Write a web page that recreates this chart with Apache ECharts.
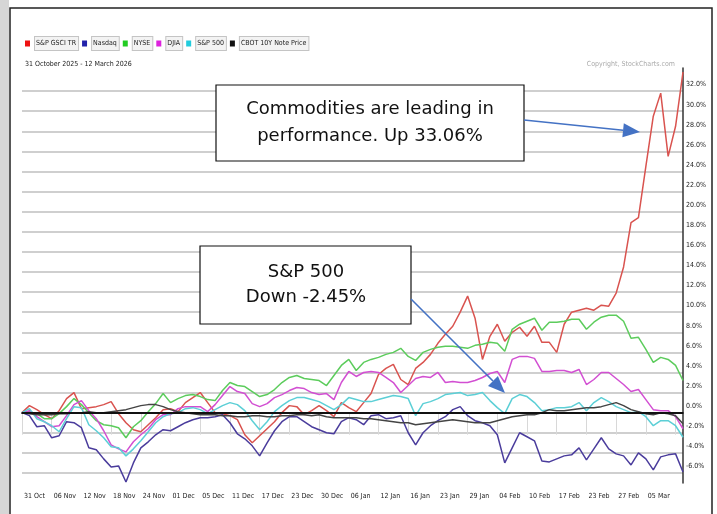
<!DOCTYPE html>
<html>
<head>
<meta charset="utf-8">
<script src="https://cdn.jsdelivr.net/npm/echarts@6/dist/echarts.min.js"></script>
<style>
html, body { margin: 0; padding: 0; background: #fff; }
#perf-chart { width: 717px; height: 514px; }
</style>
</head>
<body>
<div id="perf-chart"></div>
<script>
// trading days, 31 Oct 2025 - 12 Mar 2026
var dates = [
  '31 Oct','03 Nov','04 Nov','05 Nov','06 Nov','07 Nov','10 Nov','11 Nov','12 Nov','13 Nov',
  '14 Nov','17 Nov','18 Nov','19 Nov','20 Nov','21 Nov','24 Nov','25 Nov','26 Nov','28 Nov',
  '01 Dec','02 Dec','03 Dec','04 Dec','05 Dec','08 Dec','09 Dec','10 Dec','11 Dec','12 Dec',
  '15 Dec','16 Dec','17 Dec','18 Dec','19 Dec','22 Dec','23 Dec','24 Dec','26 Dec','29 Dec',
  '30 Dec','31 Dec','02 Jan','05 Jan','06 Jan','07 Jan','08 Jan','09 Jan','12 Jan','13 Jan',
  '14 Jan','15 Jan','16 Jan','20 Jan','21 Jan','22 Jan','23 Jan','26 Jan','27 Jan','28 Jan',
  '29 Jan','30 Jan','02 Feb','03 Feb','04 Feb','05 Feb','06 Feb','09 Feb','10 Feb','11 Feb',
  '12 Feb','13 Feb','17 Feb','18 Feb','19 Feb','20 Feb','23 Feb','24 Feb','25 Feb','26 Feb',
  '27 Feb','02 Mar','03 Mar','04 Mar','05 Mar','06 Mar','09 Mar','10 Mar','11 Mar','12 Mar'
];

// % change since 31 Oct
var gsci = [
  0,0.7,0.3,-0.2,-0.6,0.2,1.4,2.0,0.4,0.5,
  0.6,0.8,1.1,-0.1,-1.0,-1.7,-1.9,-1.2,-0.5,0.3,
  0.4,0.1,1.0,1.5,2.0,1.0,0.0,-0.1,-0.3,-0.7,
  -2.2,-3.0,-2.3,-1.6,-0.9,0.0,0.7,0.6,-0.2,0.2,
  0.7,0.2,-0.4,1.0,0.5,0.1,1.0,1.9,3.8,4.4,
  4.8,3.3,2.8,4.4,5.0,5.8,6.9,7.8,8.6,10.0,
  11.6,9.4,5.3,7.6,8.8,7.1,8.0,8.5,7.6,8.6,
  7.0,7.0,6.0,8.8,10.0,10.2,10.4,10.2,10.7,10.6,
  11.9,14.5,18.9,19.4,24.5,29.5,31.8,25.5,28.5,33.9
];
var nasdaq = [
  0,-0.3,-1.4,-1.3,-2.5,-2.3,-0.9,-1.0,-1.5,-3.5,
  -3.7,-4.6,-5.4,-5.3,-6.9,-5.0,-3.5,-2.9,-2.2,-1.7,
  -1.8,-1.4,-1.0,-0.7,-0.5,-0.5,-0.4,-0.2,-1.0,-2.1,
  -2.6,-3.3,-4.3,-3.0,-1.8,-0.9,-0.4,-0.4,-0.9,-1.4,
  -1.7,-2.0,-2.1,-0.9,-0.5,-0.7,-1.2,-0.3,-0.2,-0.6,
  -0.5,-0.3,-2.0,-3.2,-2.0,-1.3,-0.8,-0.4,0.3,0.6,
  -0.3,-0.8,-1.0,-1.3,-2.2,-5.0,-3.5,-2.0,-2.4,-2.8,
  -4.8,-4.9,-4.6,-4.3,-4.2,-3.5,-4.7,-3.6,-2.5,-3.6,
  -4.1,-4.3,-5.2,-4.0,-4.6,-5.7,-4.4,-4.2,-4.1,-5.9
];
var nyse = [
  0,0.1,-0.1,-0.6,-0.6,-0.1,0.6,1.4,0.8,0.0,
  -0.8,-1.2,-1.3,-1.5,-2.5,-1.4,-0.8,0.1,0.9,1.9,
  1.0,1.4,1.7,1.8,1.6,1.3,1.2,2.2,3.0,2.7,
  2.6,2.1,1.6,1.8,2.3,3.0,3.5,3.7,3.4,3.3,
  3.2,2.7,3.7,4.7,5.3,4.2,5.0,5.3,5.5,5.8,
  6.0,6.4,5.6,5.2,6.0,6.3,6.5,6.6,6.6,6.5,
  6.4,6.7,6.8,7.0,6.9,6.1,8.3,8.8,9.1,9.4,
  8.2,9.0,9.0,9.1,9.3,9.3,8.3,9.0,9.5,9.7,
  9.7,9.1,7.4,7.5,6.3,5.0,5.5,5.3,4.7,3.2
];
var djia = [
  0,0.2,-0.4,-0.9,-1.4,-1.3,-0.3,0.8,1.2,0.2,
  -0.6,-1.8,-3.2,-3.6,-3.9,-2.9,-2.2,-1.6,-0.7,-0.2,
  -0.2,0.4,0.6,0.6,0.6,0.1,0.8,1.7,2.6,2.1,
  1.9,0.9,0.6,0.9,1.5,1.8,2.2,2.5,2.4,2.0,
  1.8,1.9,1.3,3.0,4.1,3.6,4.0,4.1,4.0,3.5,
  3.0,2.0,2.7,3.4,3.6,3.5,4.0,3.0,3.1,3.0,
  3.0,3.2,3.5,3.9,4.1,3.0,5.3,5.6,5.6,5.4,
  4.1,4.1,4.2,4.2,4.0,4.3,2.8,3.3,4.0,4.0,
  3.4,2.8,2.1,2.3,1.3,0.3,0.2,0.2,-0.4,-1.6
];
var sp500 = [
  0,0.4,-0.6,-0.9,-1.3,-1.9,-0.6,0.6,0.5,-1.2,
  -1.8,-2.5,-3.4,-3.5,-4.3,-3.6,-2.8,-1.9,-1.0,-0.4,
  -0.1,0.0,0.4,0.5,0.3,-0.1,0.3,0.7,1.0,0.8,
  0.2,-0.8,-1.7,-0.9,0.1,0.7,1.2,1.5,1.5,1.3,
  1.1,0.7,0.3,0.8,1.5,1.3,1.1,1.1,1.3,1.5,
  1.7,1.6,1.4,-0.3,0.9,1.1,1.4,1.8,1.9,2.0,
  1.7,1.8,2.0,1.2,0.5,-0.1,1.4,1.8,1.6,1.0,
  0.2,0.3,0.5,0.5,0.6,1.0,0.2,1.0,1.5,1.1,
  0.6,0.3,0.0,0.1,-0.4,-1.3,-0.8,-0.8,-1.3,-2.45
];
var tnote = [
  0,-0.1,-0.2,-0.2,-0.2,-0.1,-0.1,0.0,0.0,0.1,
  0.0,0.0,0.1,0.2,0.3,0.5,0.7,0.8,0.8,0.6,
  0.3,0.1,0.0,-0.1,-0.2,-0.2,-0.2,-0.3,-0.3,-0.4,
  -0.4,-0.3,-0.3,-0.4,-0.4,-0.3,-0.3,-0.2,-0.2,-0.3,
  -0.2,-0.4,-0.5,-0.5,-0.5,-0.5,-0.6,-0.6,-0.7,-0.8,
  -0.9,-1.0,-1.0,-1.2,-1.1,-1.0,-0.9,-0.8,-0.7,-0.8,
  -0.9,-1.0,-1.0,-1.0,-0.8,-0.6,-0.4,-0.3,-0.2,-0.2,
  0.0,0.3,0.2,0.2,0.3,0.4,0.5,0.5,0.6,0.8,
  1.0,0.7,0.3,0.1,-0.1,-0.2,0.0,-0.1,-0.3,-1.1
];

var yTicks = [-6,-4,-2,0,2,4,6,8,10,12,14,16,18,20,22,24,26,28,30,32];

var narrow = '"Liberation Sans Narrow", "Arial Narrow", "DejaVu Sans Condensed", Roboto, sans-serif';

var chart = echarts.init(document.getElementById('perf-chart'));

function line_series(name, data, legendColor, lineColor)
{
    return {
        name: name,
        type: 'line',
        data: data,
        showSymbol: false,
        symbol: 'none',
        itemStyle: { color: legendColor },
        lineStyle: { color: lineColor, width: 1.5 },
        emphasis: { disabled: true },
        animation: false
    };
}

// arrow from (x1,y1) to tip (x2,y2)
function arrow(x1, y1, x2, y2)
{
    var dx = x2 - x1, dy = y2 - y1;
    var len = Math.sqrt(dx * dx + dy * dy);
    var ux = dx / len, uy = dy / len;
    var hl = 17, hw = 7;
    var bx = x2 - ux * hl, by = y2 - uy * hl;
    return [
        {
            type: 'line',
            shape: { x1: x1, y1: y1, x2: bx, y2: by },
            style: { stroke: '#4472c4', lineWidth: 1.6 },
            z: 100
        },
        {
            type: 'polygon',
            shape: { points: [[x2, y2], [bx - uy * hw, by + ux * hw], [bx + uy * hw, by - ux * hw]] },
            style: { fill: '#4472c4' },
            z: 100
        }
    ];
}

var series = [
    line_series('S&P GSCI TR', gsci, '#ee1111', '#d9534f'),
    line_series('Nasdaq', nasdaq, '#2222aa', '#4a3c9c'),
    line_series('NYSE', nyse, '#22cc22', '#5ccc5c'),
    line_series('DJIA', djia, '#dd22dd', '#d24fd2'),
    line_series('S&P 500', sp500, '#22ccdd', '#5ccfd6'),
    line_series('CBOT 10Y Note Price', tnote, '#111111', '#444444')
];
series[5].markLine = {
    silent: true,
    symbol: 'none',
    label: { show: false },
    lineStyle: { color: '#111', width: 2, type: 'solid' },
    data: [{ yAxis: 0 }],
    animation: false
};

var graphics = [
    { type: 'rect', shape: { x: 0, y: 0, width: 9, height: 514 }, style: { fill: '#d6d6d6' }, z: 1 },
    { type: 'rect', shape: { x: 10, y: 8, width: 702, height: 520 }, style: { fill: 'none', stroke: '#222', lineWidth: 1.5 }, z: 1 },
    { type: 'rect', shape: { x: 216, y: 85, width: 308, height: 76 }, style: { fill: '#fff', stroke: '#111', lineWidth: 1.2 }, z: 90 },
    {
        type: 'text', x: 370, y: 123, z: 91,
        style: {
            text: 'Commodities are leading in\nperformance. Up 33.06%',
            font: '18px "DejaVu Sans", Verdana, sans-serif',
            fill: '#111', align: 'center', verticalAlign: 'middle', lineHeight: 27
        }
    },
    { type: 'rect', shape: { x: 200, y: 246, width: 211, height: 78 }, style: { fill: '#fff', stroke: '#111', lineWidth: 1.2 }, z: 90 },
    {
        type: 'text', x: 306, y: 285, z: 91,
        style: {
            text: 'S&P 500\nDown -2.45%',
            font: '18px "DejaVu Sans", Verdana, sans-serif',
            fill: '#111', align: 'center', verticalAlign: 'middle', lineHeight: 25
        }
    }
].concat(arrow(524, 120, 640, 132), arrow(411, 299, 505, 393));

var options = {
    backgroundColor: '#fff',
    animation: false,
    title: [
        {
            text: '31 October 2025 - 12 March 2026',
            left: 20,
            top: 56,
            textStyle: { fontSize: 7, fontWeight: 'normal', color: '#222', fontFamily: narrow }
        },
        {
            text: 'Copyright, StockCharts.com',
            right: 37,
            top: 56,
            textStyle: { fontSize: 7, fontWeight: 'normal', color: '#aaa', fontFamily: narrow }
        }
    ],
    legend: {
        left: 20,
        top: 31,
        icon: 'rect',
        itemWidth: 5,
        itemHeight: 6,
        itemGap: 3,
        selectedMode: false,
        textStyle: {
            fontSize: 7,
            color: '#222',
            fontFamily: narrow,
            padding: [3, 2, 3, 1],
            borderColor: '#c4c4c4',
            borderWidth: 1,
            backgroundColor: '#f3f3f3'
        }
    },
    grid: {
        left: 22,
        right: 34,
        top: 68,
        bottom: 31,
        containLabel: false
    },
    xAxis: [
        {
            type: 'category',
            data: dates,
            boundaryGap: false,
            axisLine: { show: true, lineStyle: { color: '#333', width: 2 } },
            axisTick: {
                show: true,
                length: 22,
                interval: function (i) { return i % 4 === 0; },
                lineStyle: { color: '#d8d8d8', width: 1 }
            },
            axisLabel: {
                interval: function (i) { return i % 4 === 0 && i < 88; },
                align: 'left',
                margin: 10,
                padding: [0, 0, 0, 2],
                fontSize: 7,
                color: '#222',
                fontFamily: narrow
            },
            splitLine: { show: false }
        }
    ],
    yAxis: [
        {
            type: 'value',
            position: 'right',
            min: -7,
            max: 34.3,
            axisLine: { show: true, lineStyle: { color: '#333', width: 1.5 } },
            axisTick: { show: false, customValues: yTicks },
            axisLabel: {
                customValues: yTicks,
                margin: 3,
                verticalAlign: 'bottom',
                padding: [0, 0, 3, 0],
                fontSize: 7,
                color: '#222',
                fontFamily: narrow,
                formatter: function (v) { return v.toFixed(1) + '%'; }
            },
            splitLine: { show: true, lineStyle: { color: '#cfcfcf', width: 2 } }
        }
    ],
    series: series,
    graphic: graphics
};

chart.setOption(options);
</script>
</body>
</html>
